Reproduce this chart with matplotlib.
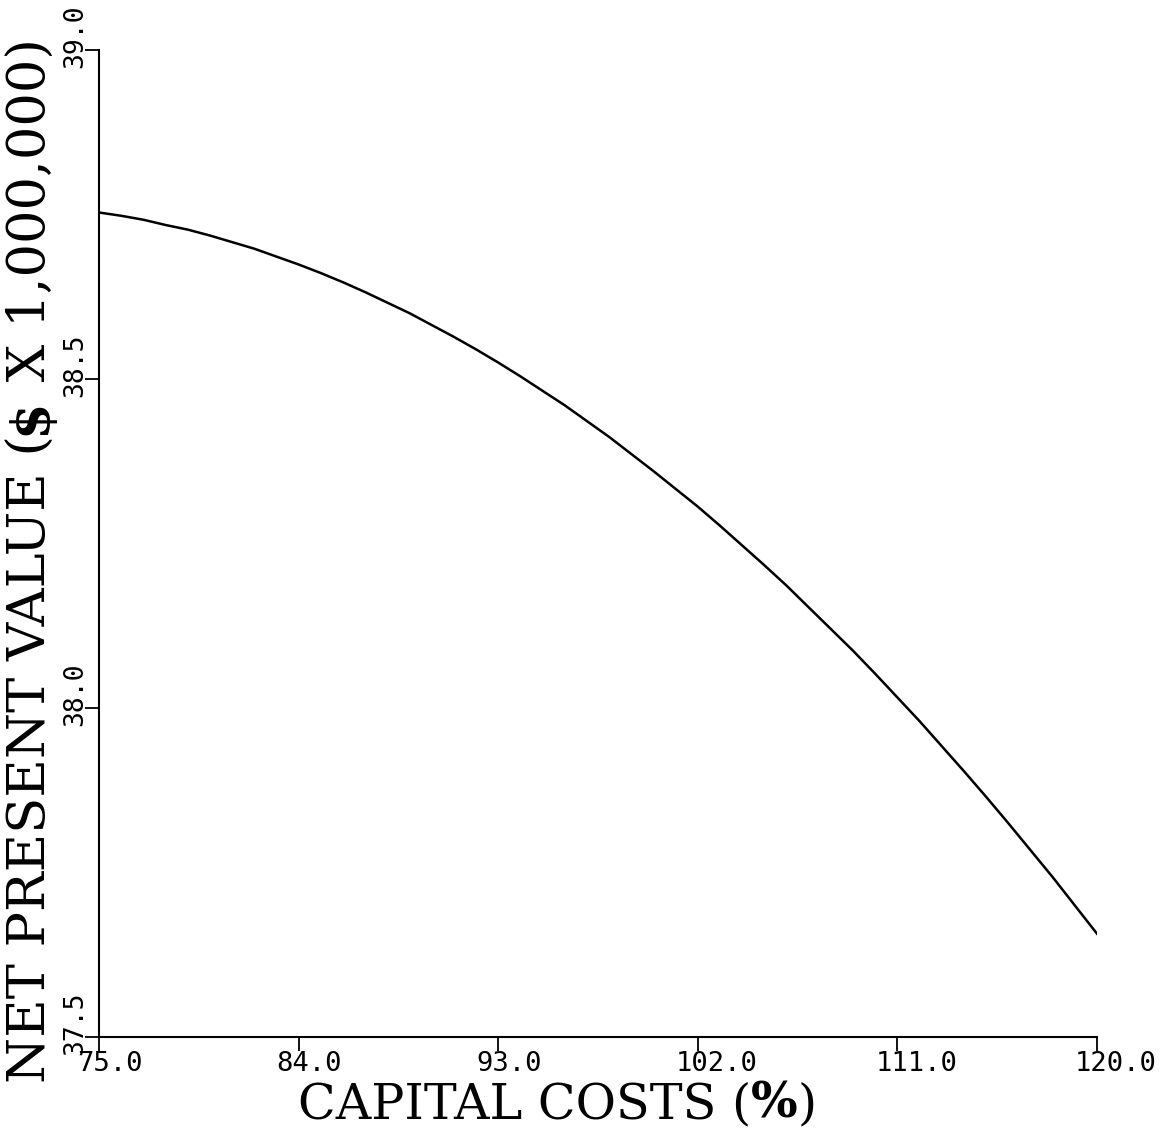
import matplotlib
matplotlib.use("Agg")
import matplotlib.pyplot as plt
from matplotlib.transforms import ScaledTranslation

# capital cost (% of base estimate) vs. net present value ($ x 1,000,000)
capital_pct = [75, 76, 77, 78, 79, 80, 81, 82, 83, 84, 85, 86, 87, 88, 89, 90,
               91, 92, 93, 94, 95, 96, 97, 98, 99, 100, 101, 102, 103, 104, 105,
               106, 107, 108, 109, 110, 111, 112, 113, 114, 115, 116, 117, 118,
               119, 120]
npv = [38.753, 38.748, 38.742, 38.734, 38.727, 38.718, 38.708, 38.698, 38.686,
       38.674, 38.661, 38.647, 38.632, 38.616, 38.600, 38.582, 38.564, 38.545,
       38.525, 38.504, 38.482, 38.460, 38.436, 38.412, 38.386, 38.360, 38.333,
       38.306, 38.277, 38.247, 38.217, 38.186, 38.153, 38.120, 38.087, 38.052,
       38.016, 37.980, 37.942, 37.904, 37.865, 37.825, 37.784, 37.743, 37.700,
       37.657]

x_ticks = [75.0, 84.0, 93.0, 102.0, 111.0, 120.0]
y_ticks = [37.5, 38.0, 38.5, 39.0]

# axis titles split round the symbol that is set in bold
xlabel_parts = ["CAPITAL COSTS (", "%", ")"]
ylabel_parts = ["NET PRESENT VALUE (", "$", " X 1,000,000)"]

TICK_FONT = "DejaVu Sans Mono"
LABEL_FONT = "DejaVu Serif"

fig = plt.figure(figsize=(11.65, 11.28), dpi=100)
ax = fig.add_axes([0.085, 0.0807, 0.8566, 0.875])

ax.plot(capital_pct, npv, color="black", lw=1.8)

ax.set_xlim(75, 120)
ax.set_ylim(37.5, 39.0)
ax.set_xticks(x_ticks)
ax.set_yticks(y_ticks)
ax.set_xticklabels([f"{v:.1f}" for v in x_ticks], fontsize=19.5, family=TICK_FONT)
ax.set_yticklabels([f"{v:.1f}" for v in y_ticks], fontsize=19, family=TICK_FONT,
                   rotation=90, va="center")

for side in ("top", "right"):
    ax.spines[side].set_visible(False)
for side in ("left", "bottom"):
    ax.spines[side].set_linewidth(1.5)
ax.tick_params(axis="both", direction="out", length=10, width=1.3)
ax.tick_params(axis="x", pad=0)
ax.tick_params(axis="y", pad=-2)

# plotter style: x labels start a little left of their tick,
# y labels sit a little above theirs
shift_x = ScaledTranslation(-0.22, 0, fig.dpi_scale_trans)
for lab in ax.get_xticklabels():
    lab.set_horizontalalignment("left")
    lab.set_transform(lab.get_transform() + shift_x)
shift_y = ScaledTranslation(0, 0.14, fig.dpi_scale_trans)
for lab in ax.get_yticklabels():
    lab.set_transform(lab.get_transform() + shift_y)


def chained_label(x0, y0, parts, size, vertical=False):
    """Lay the pieces end to end; the middle piece is bold."""
    rot = 90 if vertical else 0
    kw = dict(family=LABEL_FONT, fontsize=size, rotation=rot)
    if vertical:
        prev = fig.text(x0, y0, parts[0], ha="center", va="bottom", **kw)
        anchor = (0.5, 1.0)
    else:
        prev = fig.text(x0, y0, parts[0], ha="left", va="bottom", **kw)
        anchor = (1.0, 0.0)
    for i, part in enumerate(parts[1:], start=1):
        weight = "bold" if i == 1 else "normal"
        if vertical:
            prev = ax.annotate(part, xy=anchor, xycoords=prev, ha="center",
                               va="bottom", fontweight=weight,
                               annotation_clip=False, **kw)
        else:
            prev = ax.annotate(part, xy=anchor, xycoords=prev, ha="left",
                               va="bottom", fontweight=weight,
                               annotation_clip=False, **kw)


chained_label(0.2558, 0.0, xlabel_parts, 35.5)
chained_label(0.0265, 0.040, ylabel_parts, 38, vertical=True)

fig.savefig("out.png", dpi=100, facecolor="white")
